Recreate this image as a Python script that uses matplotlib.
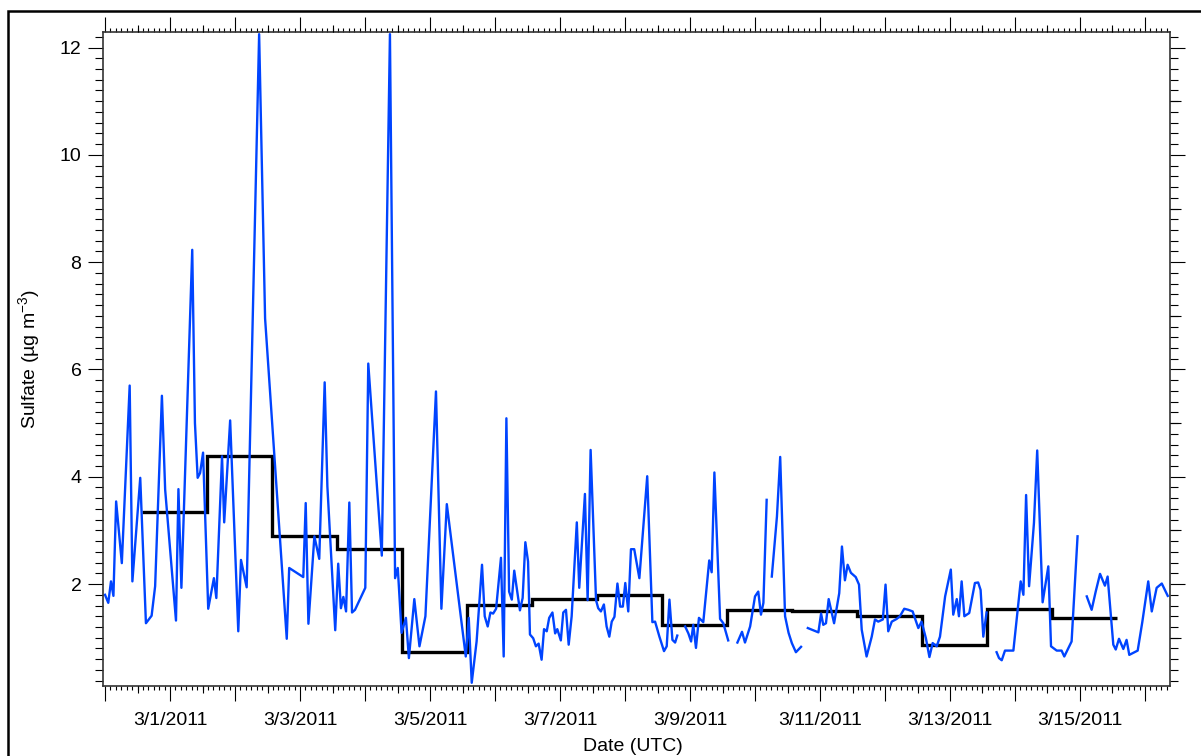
import numpy as np
import pandas as pd
import matplotlib
matplotlib.use("Agg")
import matplotlib.pyplot as plt
import matplotlib.dates as mdates
from matplotlib.ticker import FuncFormatter, MultipleLocator, FixedLocator
from matplotlib.patches import Rectangle

plt.rcParams['font.family'] = ['Liberation Sans', 'DejaVu Sans']
plt.rcParams['mathtext.default'] = 'regular'

# sulfate time series, hours after 2011-03-01 00:00 UTC (nan = gap in data)
hours = [-24.0, -22.8, -21.8, -20.9, -19.9, -17.8, -14.9, -13.9, -11.0, -8.9,
         -6.8, -5.5, -3.0, -1.8, 2.2, 3.1, 4.2, 8.2, 9.2, 10.2,
         11.1, 12.2, 14.1, 16.2, 17.1, 19.2, 20.0, 22.2, 25.2, 26.2,
         28.3, 32.9, 35.1, 43.1, 44.0, 49.2, 50.1, 51.1, 53.3, 55.1,
         57.1, 58.1, 61.0, 62.1, 63.1, 64.0, 65.0, 66.2, 67.2, 68.3,
         72.1, 73.2, 78.2, 81.2, 83.1, 84.1, 85.5, 87.1, 88.2, 90.2,
         92.1, 94.3, 98.2, 100.2, 102.2, 109.2, 110.3, 111.4, 113.2, 115.2,
         116.2, 117.3, 118.3, 119.3, 120.4, 122.2, 123.2, 124.2, 125.2, 126.2,
         127.1, 129.2, 130.2, 131.2, 132.2, 132.9, 134.1, 135.1, 136.1, 137.2,
         138.1, 139.1, 140.0, 141.2, 142.2, 143.0, 144.3, 145.2, 146.2, 147.2,
         148.3, 150.2, 151.1, 153.2, 154.2, 155.3, 157.3, 158.1, 159.1, 160.2,
         161.2, 162.2, 163.1, 164.1, 165.2, 166.2, 167.2, 168.1, 169.2, 170.2,
         171.4, 173.3, 176.2, 178.1, 179.1, 180.7, 182.4, 183.4, 184.4, 185.5,
         186.5, 187.3, 188.7, 190.2, 191.4, 192.4, 193.2, 194.2, 195.3, 196.9,
         199.1, 200.0, 201.0, 203.1, 204.3, 206.1, 207.8, 209.5, 211.2, 212.3,
         214.2, 216.0, 217.2, 218.2, 219.1, 220.3, 221.2, 222.2, 224.1, 225.3,
         227.1, 228.4, 229.6, 231.1, 233.0, 234.2, 235.5, 237.5, 239.4, 240.4,
         241.2, 242.2, 243.2, 245.2, 247.1, 248.1, 249.2, 250.2, 251.4, 253.2,
         254.4, 255.4, 257.2, 259.1, 260.3, 261.5, 263.2, 264.2, 265.2, 266.5,
         268.3, 269.5, 271.1, 272.6, 274.2, 276.3, 277.5, 279.1, 280.4, 281.6,
         283.1, 284.3, 286.2, 288.3, 289.2, 290.5, 291.3, 292.3, 293.3, 295.1,
         297.2, 298.4, 299.3, 300.3, 301.5, 303.3, 305.2, 306.1, 307.1, 308.3,
         311.4, 314.1, 315.1, 316.1, 317.2, 319.0, 320.2, 322.2, 324.3, 325.3,
         327.4, 329.2, 330.2, 332.9, 335.1, 336.8, 338.5, 340.3, 341.8, 343.4,
         345.2, 346.2, 348.3, 349.2, 350.4, 352.0, 353.2, 354.2, 357.3, 359.0,
         361.2, 362.5, 364.3, 366.2, 368.4]
sulfate = [1.80, 1.65, 2.05, 1.78, 3.54, 2.39, 5.70, 2.05, 3.98, 1.27,
           1.41, 1.96, 5.51, 3.76, 1.32, 3.77, 1.93, 8.23, 5.00, 3.98,
           4.07, 4.45, 1.54, 2.11, 1.74, 4.38, 3.15, 5.05, 1.12, 2.45,
           1.94, 12.25, 6.95, 0.98, 2.30, 2.13, 3.51, 1.26, 2.89, 2.47,
           5.76, 3.82, 1.14, 2.38, 1.55, 1.76, 1.49, 3.52, 1.47, 1.52,
           1.93, 6.11, 2.53, 12.25, 2.11, 2.30, 1.09, 1.37, 0.62, 1.72,
           0.84, 1.40, 5.59, 1.54, 3.49, 0.65, 1.37, 0.16, 0.93, 2.36,
           1.40, 1.21, 1.47, 1.45, 1.54, 2.49, 0.65, 5.09, 1.86, 1.71,
           2.25, 1.51, 1.74, 2.78, 2.42, 1.06, 0.99, 0.84, 0.89, 0.59,
           1.16, 1.12, 1.37, 1.47, 1.08, 1.16, 0.95, 1.47, 1.52, 0.87,
           1.40, 3.15, 1.93, 3.68, 1.70, 4.50, 1.70, 1.55, 1.49, 1.62,
           1.21, 1.02, 1.30, 1.39, 2.01, 1.58, 1.58, 2.02, 1.49, 2.65,
           2.65, 2.11, 4.01, 1.29, 1.30, 1.02, 0.75, 0.84, 1.71, 0.96,
           0.91, 1.04, np.nan, 1.21, 1.08, 0.93, 1.24, 0.81, 1.37, 1.29,
           2.44, 2.22, 4.08, 1.35, 1.27, 0.95, np.nan, 0.91, 1.11, 0.91,
           1.21, 1.77, 1.86, 1.43, 1.65, 3.57, np.nan, 2.14, 3.26, 4.37,
           1.40, 1.09, 0.90, 0.73, 0.83, np.nan, 1.18, 1.14, 1.10, 1.45,
           1.24, 1.27, 1.72, 1.27, 1.83, 2.70, 2.07, 2.36, 2.21, 2.13,
           1.99, 1.15, 0.65, 1.02, 1.34, 1.30, 1.34, 1.99, 1.12, 1.30,
           1.35, 1.40, 1.54, 1.52, 1.49, 1.18, 1.30, 0.99, 0.64, 0.90,
           0.84, 1.02, 1.77, 2.27, 1.43, 1.72, 1.40, 2.05, 1.40, 1.46,
           2.02, 2.03, 1.89, 1.02, 1.47, np.nan, 0.73, 0.62, 0.58, 0.76,
           0.76, 2.05, 1.80, 3.66, 1.96, 3.14, 4.49, 1.66, 2.33, 0.84,
           0.76, 0.76, 0.65, 0.93, 2.89, np.nan, 1.77, 1.52, 1.86, 2.19,
           1.97, 2.14, 0.87, 0.78, 0.98, 0.79, 0.96, 0.68, 0.76, 1.29,
           2.05, 1.49, 1.93, 2.01, 1.78]

# daily averages (day boundaries at 13:30 UTC)
day_start = "2011-02-28 13:30"
daily_mean = [3.34, 4.39, 2.90, 2.66, 0.73, 1.61, 1.73, 1.79, 1.24, 1.52,
              1.49, 1.40, 0.87, 1.53, 1.36]

t0 = pd.Timestamp("2011-03-01 00:00")
times = t0 + pd.to_timedelta(hours, unit="h")
edges = pd.date_range(day_start, periods=len(daily_mean) + 1, freq="D")

fig = plt.figure(figsize=(12.01, 7.56), dpi=100)
ax = fig.add_axes([103 / 1201, 1 - 686 / 756, 1067 / 1201, 654 / 756])

ax.plot(mdates.date2num(times), sulfate, color="#0044ff", lw=1.7)
ax.stairs(daily_mean, mdates.date2num(edges), baseline=None, color="black", lw=2.4)

xlim = (mdates.date2num(pd.Timestamp("2011-02-27 23:15")),
        mdates.date2num(pd.Timestamp("2011-03-16 09:14")))
ylim = (0.1, 12.29)
ax.set_xlim(xlim)
ax.set_ylim(ylim)

# 12-hour medium ticks on top and bottom (twin axis, no spines)
ax_mid = ax.twiny()
ax_mid.set_xlim(xlim)
ax_mid.xaxis.set_major_locator(mdates.HourLocator(byhour=[12]))
ax_mid.xaxis.set_minor_locator(FixedLocator([]))
ax_mid.tick_params(axis="x", which="major", direction="out", top=True, bottom=True,
                   labeltop=False, labelbottom=False, length=5.2, width=0.8)
for s in ax_mid.spines.values():
    s.set_visible(False)

# medium ticks on the right axis at odd values
ax_r = ax.twinx()
ax_r.set_ylim(ylim)
ax_r.yaxis.set_major_locator(MultipleLocator(2, offset=1))
ax_r.yaxis.set_minor_locator(FixedLocator([]))
ax_r.tick_params(axis="y", direction="out", left=False, right=True,
                 labelright=False, labelleft=False, length=8, width=0.8)
for s in ax_r.spines.values():
    s.set_visible(False)

def date_fmt(x, pos):
    d = mdates.num2date(x)
    if d.month == 3 and d.day % 2 == 1:
        return f"{d.month}/{d.day}/{d.year}"
    return ""

ax.xaxis.set_major_locator(mdates.DayLocator())
ax.xaxis.set_major_formatter(FuncFormatter(date_fmt))
ax.xaxis.set_minor_locator(mdates.HourLocator(byhour=range(0, 24, 2)))
ax.yaxis.set_major_locator(MultipleLocator(2))
ax.yaxis.set_minor_locator(MultipleLocator(0.2))

ax.tick_params(which="both", direction="out", top=True, bottom=True, left=True, right=True,
               labeltop=False, labelright=False, width=0.8, color="black")
ax.tick_params(axis="x", which="major", length=10.5, pad=8.5, labelsize=14)
ax.tick_params(axis="x", which="minor", length=2.6)
ax.tick_params(axis="y", which="major", length=10.5, pad=5, labelsize=14)
ax.tick_params(axis="y", which="minor", length=5.5)
for s in ax.spines.values():
    s.set_linewidth(1.2)
    s.set_color("#333333")

ax.set_xlabel("Date (UTC)", fontsize=14)
ax.xaxis.set_label_coords(0.497, -0.08)
ax.set_ylabel("Sulfate (µg m$^{-3}$)", fontsize=14)
ax.yaxis.set_label_coords(-0.057, 0.5)

fig.patches.append(Rectangle((8 / 1201, -0.05), 1.1, 0.05 + 1 - 11 / 756,
                             transform=fig.transFigure, fill=False,
                             edgecolor="black", lw=1.8))

fig.savefig("out.png", dpi=100)
